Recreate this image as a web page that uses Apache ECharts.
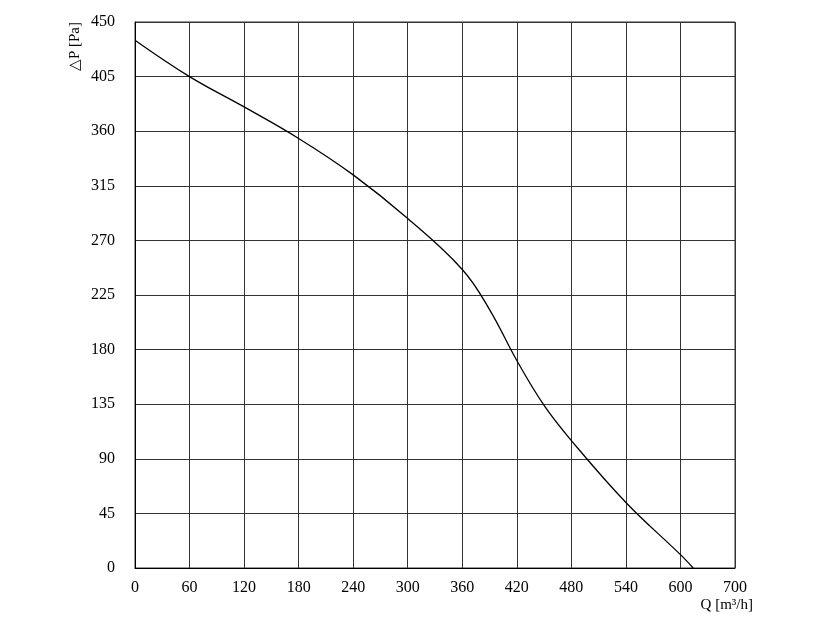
<!DOCTYPE html>
<html><head><meta charset="utf-8">
<script src="https://cdn.jsdelivr.net/npm/echarts@6/dist/echarts.min.js"></script>
<style>html,body{margin:0;padding:0;background:#fff}#c{width:817px;height:643px}</style>
</head><body><div id="c"></div>
<script>
const flowQ = [0, 60, 120, 180, 240, 300, 360, 390, 420, 450, 480, 540, 600, 614];
const pressureP = [435, 405, 380, 354, 324, 288, 246, 213, 171, 134, 105, 54, 11, 0];
const xTickLabels = {0:'0',60:'60',120:'120',180:'180',240:'240',300:'300',360:'360',420:'420',480:'480',540:'540',600:'600',660:'700'};
const font = 'Liberation Serif';
const chart = echarts.init(document.getElementById('c'));
chart.setOption({
  animation:false,
  grid:{left:135,right:82,top:22,bottom:75,show:true,borderColor:'#333',borderWidth:1},
  xAxis:{type:'value',min:0,max:660,interval:60,
    name:'Q [m³/h]',nameLocation:'end',nameGap:0,
    nameTextStyle:{fontFamily:font,fontSize:15,color:'#000',align:'right',verticalAlign:'top',padding:[30,-18,0,0]},
    axisLine:{lineStyle:{color:'#000'}},axisTick:{show:false},
    axisLabel:{fontFamily:font,fontSize:16,color:'#000',margin:12,formatter:v=>xTickLabels[v]??''},
    splitLine:{lineStyle:{color:'#333',width:1}}},
  yAxis:{type:'value',min:0,max:450,interval:45,
    name:'△P [Pa]',nameLocation:'end',nameRotate:90,nameGap:0,
    nameTextStyle:{fontFamily:font,fontSize:15,color:'#000',align:'right',verticalAlign:'bottom',padding:[0,0,52,0]},
    axisLine:{show:true,lineStyle:{color:'#000'}},axisTick:{show:false},
    axisLabel:{fontFamily:font,fontSize:16,color:'#000',margin:20},
    splitLine:{lineStyle:{color:'#333',width:1}}},
  series:[{type:'line',smooth:0.4,symbol:'none',
    data:flowQ.map((q,i)=>[q,pressureP[i]]),
    lineStyle:{color:'#000',width:1.3}}]
});
</script></body></html>
